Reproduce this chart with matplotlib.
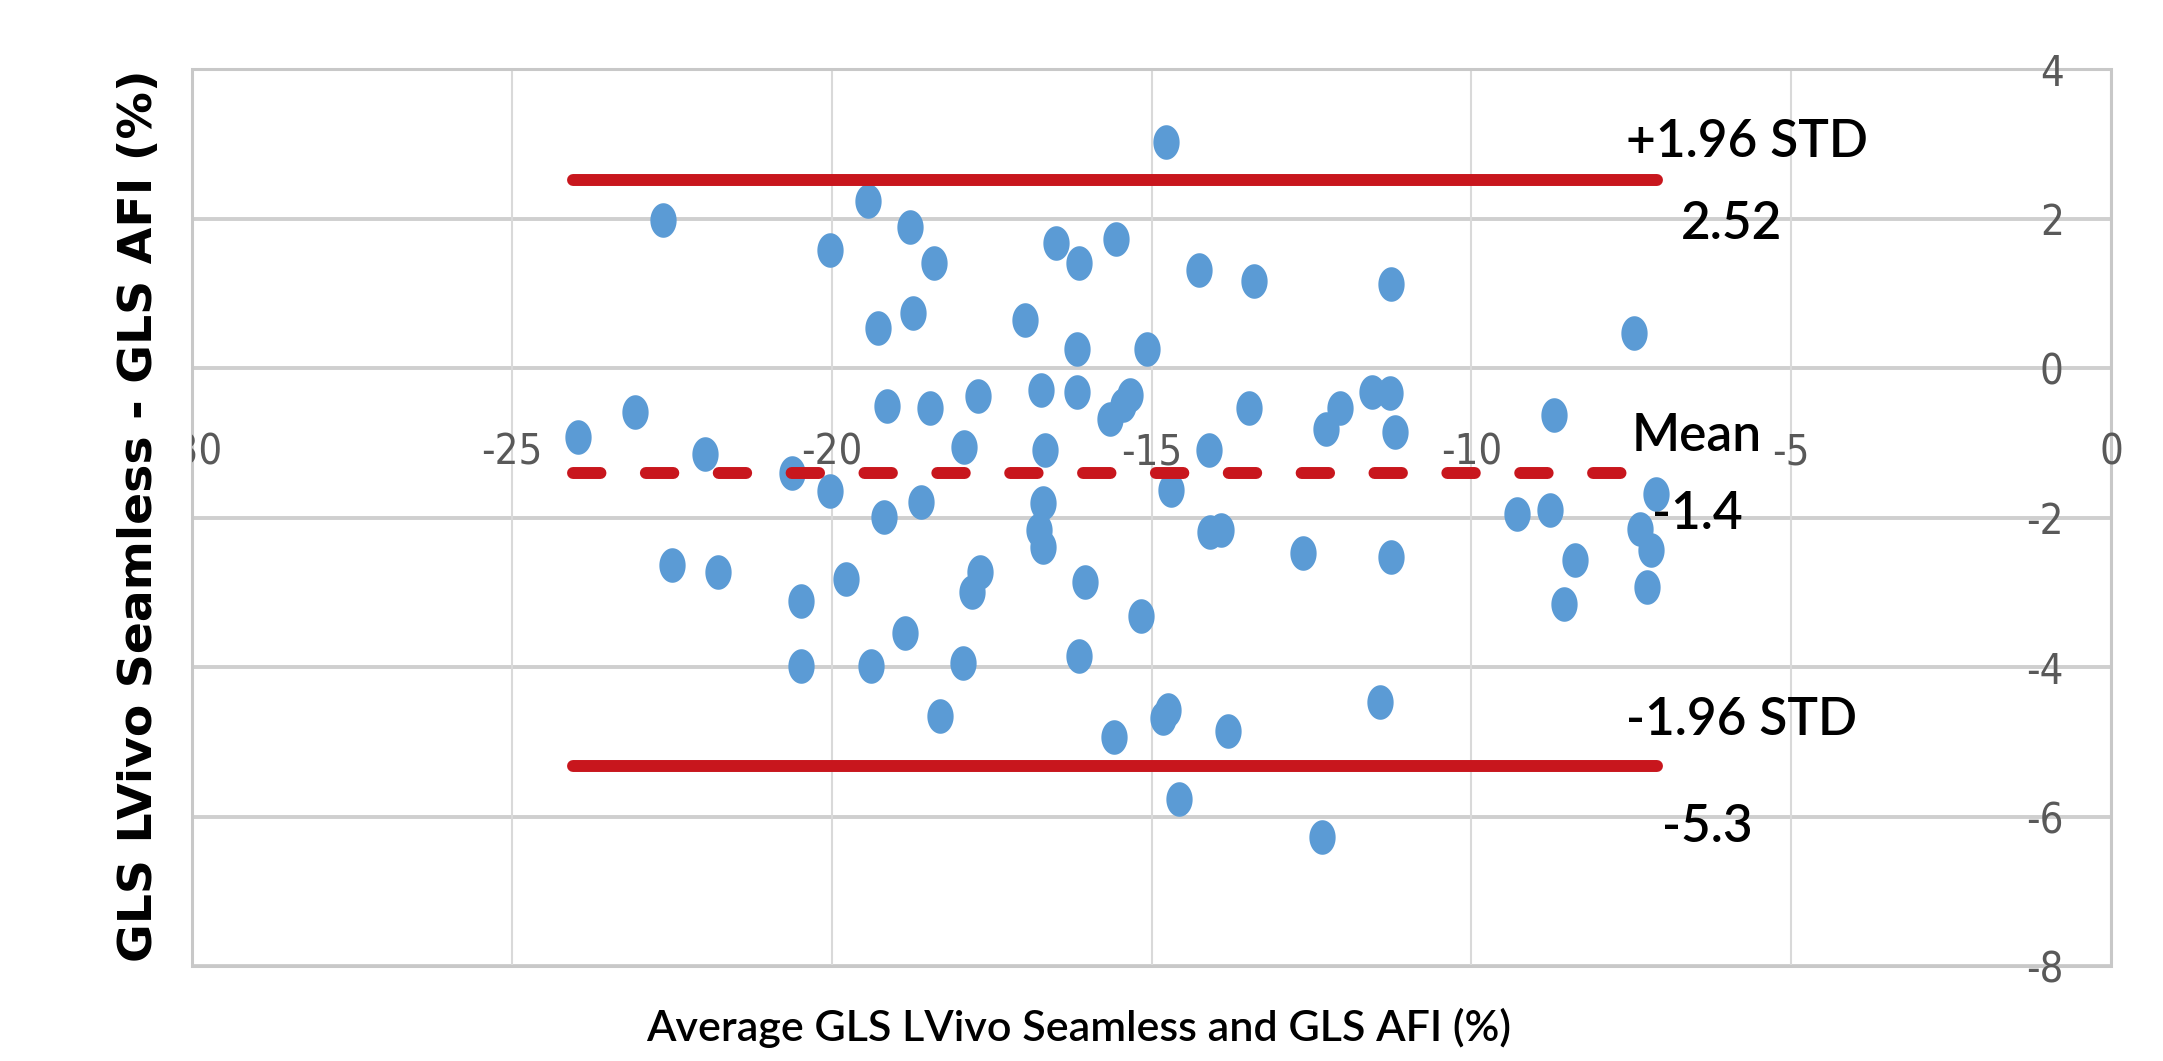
import numpy as np
import matplotlib
matplotlib.use("Agg")
import matplotlib.pyplot as plt
from matplotlib.path import Path
from matplotlib.patches import Rectangle
from matplotlib import font_manager

# Bland-Altman data
avg_gls = [-22.64, -20.02, -19.43, -18.77, -18.40, -19.27, -18.73, -16.49, -16.13, -15.55,
           -16.98, -16.16, -15.07, -23.96, -23.08, -21.98, -20.62, -20.02, -19.13, -18.47,
           -17.72, -17.94, -16.73, -16.16, -16.67, -15.65, -15.45, -15.33, -19.18, -18.60,
           -16.70, -16.76, -16.70, -22.50, -21.78, -20.48, -19.78, -20.48, -19.39, -18.85,
           -17.95, -18.31, -17.69, -17.80, -16.04, -16.13, -15.59, -15.17, -14.69, -14.09,
           -13.92, -12.63, -11.26, -9.28, -8.77, -8.38, -8.56, -7.12, -7.37, -7.19,
           -7.25, -14.75, -14.82, -13.80, -11.43, -14.57, -12.33, -14.77, -14.26, -13.40,
           -11.26, -7.46, -13.47, -14.10, -12.27, -12.06, -11.55, -11.28, -11.20, -8.71]
diff_gls = [1.98, 1.58, 2.23, 1.89, 1.41, 0.54, 0.74, 1.67, 1.40, 1.72,
            0.64, 0.26, 0.26, -0.92, -0.59, -1.15, -1.41, -1.64, -0.51, -0.54,
            -0.38, -1.05, -0.29, -0.32, -1.10, -0.68, -0.50, -0.36, -1.99, -1.79,
            -1.80, -2.17, -2.40, -2.64, -2.73, -3.11, -2.82, -3.98, -3.98, -3.55,
            -3.94, -4.65, -2.73, -3.00, -2.86, -3.85, -4.94, -3.32, -1.63, -2.19,
            -2.17, -2.48, -2.53, -1.95, -1.90, -2.57, -3.15, -1.68, -2.15, -2.44,
            -2.93, -4.58, -4.68, -4.85, -4.47, -5.77, -6.28, 3.03, 1.31, 1.16,
            1.12, 0.47, -0.53, -1.10, -0.81, -0.54, -0.32, -0.34, -0.85, -0.63]

mean_diff = -1.4
upper_loa = 2.52
lower_loa = -5.32
line_x = [-24.05, -7.1]

x_ticks = [-30, -25, -20, -15, -10, -5, 0]
y_ticks = [-8, -6, -4, -2, 0, 2, 4]

red = '#C8161D'
blue = '#5B9BD5'
tick_grey = '#595959'

# tick labels in the original are tall and narrow, use a narrow face if there is one
fonts = font_manager.fontManager.ttflist
if any(f.name == 'Liberation Sans Narrow' for f in fonts):
    tick_font = dict(family=['Liberation Sans Narrow', 'DejaVu Sans'], size=36)
elif any(f.name == 'DejaVu Sans' and f.stretch == 'condensed' for f in fonts):
    tick_font = dict(family=['DejaVu Sans'], stretch='condensed', size=30)
else:
    tick_font = dict(family=['Lato', 'DejaVu Sans'], size=28)

fig = plt.figure(figsize=(21.63, 10.61), dpi=100)
ax = fig.add_axes([0.0888, 0.0895, 0.8872, 0.8454])
ax.set_xlim(-30, 0)
ax.set_ylim(-8, 4)

# gridlines drawn by hand so they stay under the points
for yv in y_ticks:
    ax.axhline(yv, color='#CFCFCF', lw=2.8, zorder=0)
for xv in x_ticks:
    ax.axvline(xv, color='#D9D9D9', lw=1.5, zorder=0)
ax.add_patch(Rectangle((0, 0), 1, 1, transform=ax.transAxes, fill=False,
                       ec='#C8C8C8', lw=2.2, clip_on=False, zorder=0))

# elliptical marker (the original picture is stretched vertically)
t = np.linspace(0, 2 * np.pi, 60)
ellipse = Path(np.column_stack([0.76 * np.cos(t), np.sin(t)]), closed=True)
ax.scatter(avg_gls, diff_gls, s=620, marker=ellipse, color=blue, lw=0, zorder=3)

ax.plot(line_x, [upper_loa, upper_loa], color=red, lw=8.6, solid_capstyle='round', zorder=4)
ax.plot(line_x, [lower_loa, lower_loa], color=red, lw=8.6, solid_capstyle='round', zorder=4)
ax.plot(line_x, [mean_diff, mean_diff], color=red, lw=8.6, dashes=(2.3, 3.8),
        dash_capstyle='round', zorder=4)

# axes cross at 0 like in excel
for s in ['top', 'right', 'left', 'bottom']:
    ax.spines[s].set_visible(False)
ax.spines['left'].set_position(('data', 0))
ax.spines['bottom'].set_position(('data', 0))

ax.set_xticks(x_ticks)
ax.set_yticks(y_ticks)
ax.set_xticklabels([str(v) for v in x_ticks])
ax.set_yticklabels([str(v) for v in y_ticks])
ax.tick_params(axis='x', length=0, pad=46, labelcolor=tick_grey)
ax.tick_params(axis='y', length=0, pad=34, labelcolor=tick_grey)
for lbl in ax.get_xticklabels() + ax.get_yticklabels():
    lbl.set_family(tick_font['family'])
    lbl.set_fontsize(tick_font['size'])
    if 'stretch' in tick_font:
        lbl.set_stretch(tick_font['stretch'])
ax.xaxis.set_zorder(6)
ax.yaxis.set_zorder(6)
first = ax.get_xticklabels()[0]
first.set_clip_on(True)
first.set_clip_box(ax.bbox)

# limit labels
ann = dict(family=['Lato', 'DejaVu Sans'], fontsize=37, fontweight='semibold',
           color='black', ha='left', va='center', zorder=7)
ax.text(-7.59, 3.02, '+1.96 STD', **ann)
ax.text(-6.73, 1.92, '2.52', **ann)
ax.text(-7.50, -0.92, 'Mean', **ann)
ax.text(-7.17, -1.96, '-1.4', **ann)
ax.text(-7.59, -4.72, '-1.96 STD', **ann)
ax.text(-7.02, -6.15, '-5.3', **ann)

fig.text(0.0647, 0.5137, 'GLS LVivo Seamless - GLS AFI (%)', rotation=90,
         ha='center', va='center', fontsize=34, fontweight='bold', family='DejaVu Sans')
fig.text(0.4988, 0.031, 'Average GLS LVivo Seamless and GLS AFI (%)',
         ha='center', va='center', fontsize=31, fontweight='semibold',
         family=['Lato', 'DejaVu Sans'])

fig.savefig('out.png', dpi=100)
